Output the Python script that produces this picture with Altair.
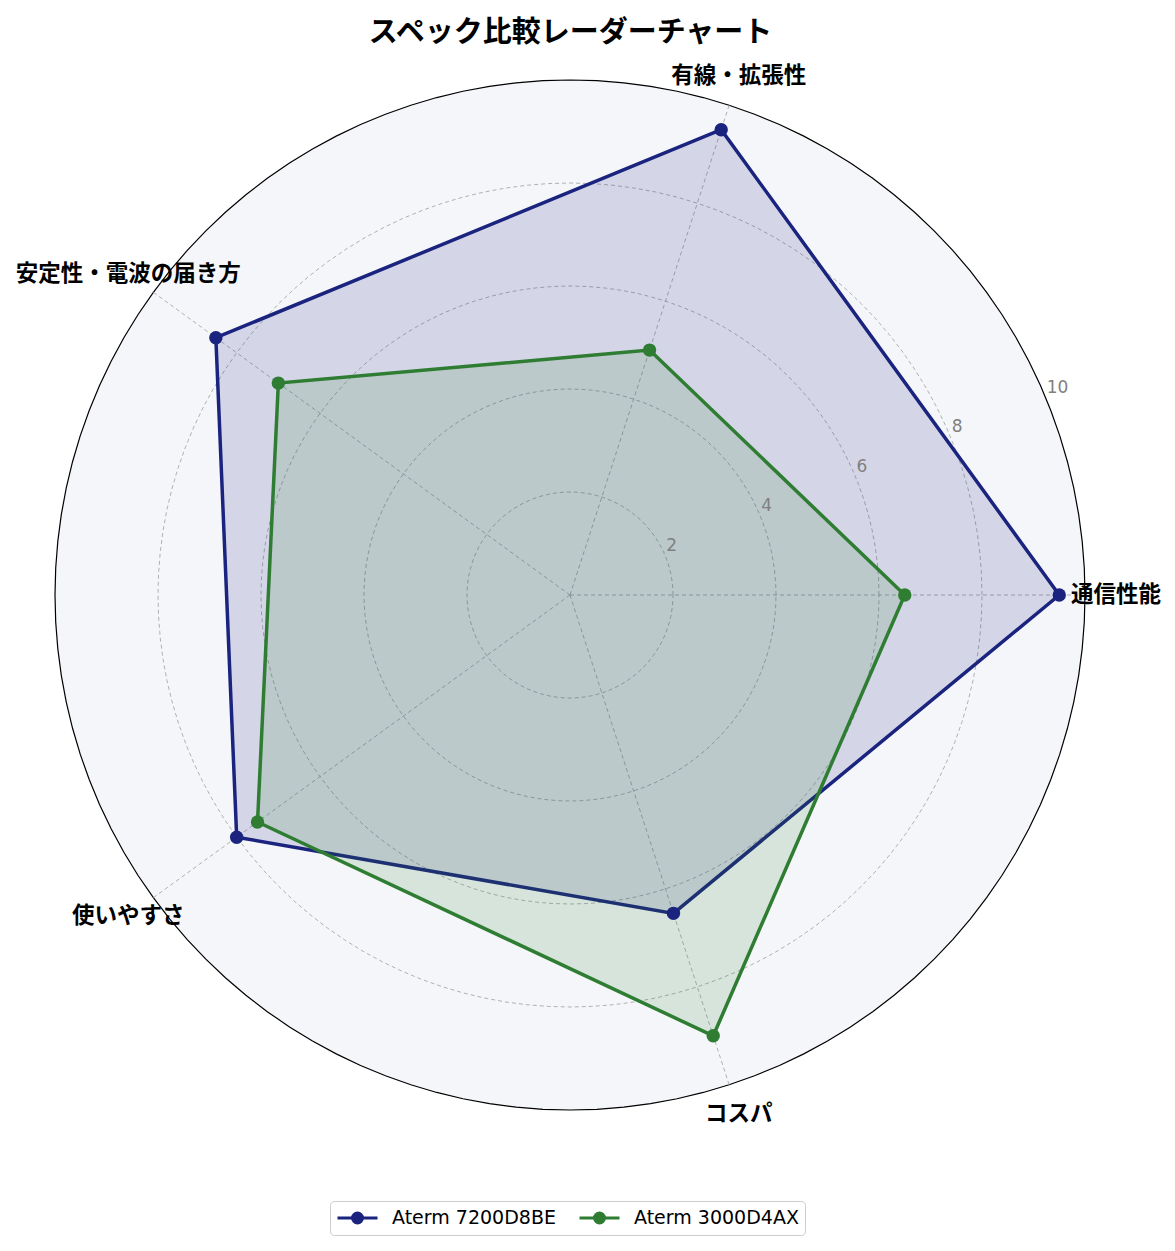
import altair as alt
import pandas as pd

# ---- data ----
categories = ["通信性能", "有線・拡張性", "安定性・電波の届き方", "使いやすさ", "コスパ"]
series_names = ["Aterm 7200D8BE", "Aterm 3000D4AX"]
values_7200 = [9.5, 9.5, 8.5, 8.0, 6.5]
values_3000 = [6.5, 5.0, 7.0, 7.5, 9.0]
ring_levels = [2, 4, 6, 8, 10]
tick_labels = ["2", "4", "6", "8", "10"]
r_max = 10
colors = ["#1a237e", "#2e7d32"]

FONT = "Noto Sans CJK JP"
LATIN = "DejaVu Sans"
n = len(categories)

rows = []
for s, vals in zip(series_names, [values_7200, values_3000]):
    for i, (c, v) in enumerate(zip(categories, vals)):
        rows.append({"series": s, "category": c, "idx": i, "value": v})
df = pd.DataFrame(rows)

cat_df = pd.DataFrame({"category": categories, "idx": list(range(n))})
STEPS = 120
ring_df = pd.DataFrame([{"level": r, "step": k} for r in ring_levels for k in range(STEPS)])
tick_df = pd.DataFrame({"level": ring_levels, "label": tick_labels})

ANG = f"datum.idx * 2 * PI / {n}"
RING_ANG = f"datum.step * 2 * PI / {STEPS}"

# layout: view is 1159 x 1185, center at page (570,595), radius 515 px for r=10
x_scale = alt.Scale(domain=[-10.9126, 11.5922], nice=False, zero=False)
y_scale = alt.Scale(domain=[-12.5825, 10.4272], nice=False, zero=False)

X = alt.X("x:Q", scale=x_scale, axis=None)
Y = alt.Y("y:Q", scale=y_scale, axis=None)

bg = (
    alt.Chart(ring_df)
    .transform_filter(f"datum.level == {r_max}")
    .transform_calculate(x=f"datum.level * cos({RING_ANG})", y=f"datum.level * sin({RING_ANG})")
    .mark_line(interpolate="linear-closed", fill="#f5f6fa", stroke="#000000", strokeWidth=1.2)
    .encode(x=X, y=Y, order="step:Q")
)

rings = (
    alt.Chart(ring_df)
    .transform_filter(f"datum.level < {r_max}")
    .transform_calculate(x=f"datum.level * cos({RING_ANG})", y=f"datum.level * sin({RING_ANG})")
    .mark_line(interpolate="linear-closed", stroke="#9e9e9e", strokeWidth=0.8, strokeDash=[4, 3])
    .encode(x=X, y=Y, order="step:Q", detail="level:N")
)

spokes = (
    alt.Chart(cat_df)
    .transform_calculate(
        x="0", y="0",
        x1=f"{r_max} * cos({ANG})", y1=f"{r_max} * sin({ANG})",
    )
    .mark_rule(stroke="#9e9e9e", strokeWidth=0.8, strokeDash=[4, 3])
    .encode(x=X, y=Y, x2="x1:Q", y2="y1:Q")
)

tick_text = (
    alt.Chart(tick_df)
    .transform_calculate(x="datum.level * cos(PI / 8)", y="datum.level * sin(PI / 8)")
    .mark_text(align="left", baseline="bottom", dx=1, dy=-1, fontSize=17, font=LATIN, color="#808080")
    .encode(x=X, y=Y, text="label:N")
)

polys = []
for s, col in zip(series_names, colors):
    polys.append(
        alt.Chart(df)
        .transform_filter(alt.datum.series == s)
        .transform_calculate(x=f"datum.value * cos({ANG})", y=f"datum.value * sin({ANG})")
        .mark_line(interpolate="linear-closed", fill=col, fillOpacity=0.15, stroke=col, strokeWidth=3.5)
        .encode(x=X, y=Y, order="idx:Q")
    )

color_scale = alt.Scale(domain=series_names, range=colors)
sym_path = "M-1,0L1,0M0.25,0A0.25,0.25,0,1,1,-0.25,0A0.25,0.25,0,1,1,0.25,0Z"
legend = alt.Legend(
    title=None, orient="none", legendX=322, legendY=1143, direction="horizontal",
    symbolType=sym_path, symbolSize=1600, symbolStrokeWidth=3, symbolOpacity=1,
    labelFontSize=19, labelFont=LATIN, labelColor="#000000", labelOffset=13, labelLimit=400,
    strokeColor="#cccccc", fillColor="#ffffff", cornerRadius=4, padding=6,
    columnPadding=22, clipHeight=22,
)

points = (
    alt.Chart(df)
    .transform_calculate(x=f"datum.value * cos({ANG})", y=f"datum.value * sin({ANG})")
    .mark_point(filled=True, size=180, opacity=1, strokeWidth=0)
    .encode(
        x=X, y=Y,
        fill=alt.Fill("series:N", scale=color_scale, legend=legend, sort=series_names),
        stroke=alt.Stroke("series:N", scale=color_scale, legend=legend, sort=series_names),
    )
)

cat_text = (
    alt.Chart(cat_df)
    .transform_calculate(x=f"10.6 * cos({ANG})", y=f"10.6 * sin({ANG})")
    .mark_text(align="center", baseline="middle", fontSize=22.5, font=FONT, fontWeight="bold", color="#000000")
    .encode(x=X, y=Y, text="category:N")
)

chart = (
    alt.layer(bg, rings, spokes, *polys, points, tick_text, cat_text)
    .properties(
        width=1159,
        height=1185,
        padding={"left": 0, "right": 0, "top": 50, "bottom": 0},
        autosize="none",
        title=alt.Title(
            "スペック比較レーダーチャート", fontSize=29, font=FONT, fontWeight="bold",
            anchor="middle", offset=10, dx=-17, color="#000000",
        ),
    )
    .configure_view(stroke=None)
)

chart.save("out.html", embed_options={"renderer": "svg", "actions": False})
